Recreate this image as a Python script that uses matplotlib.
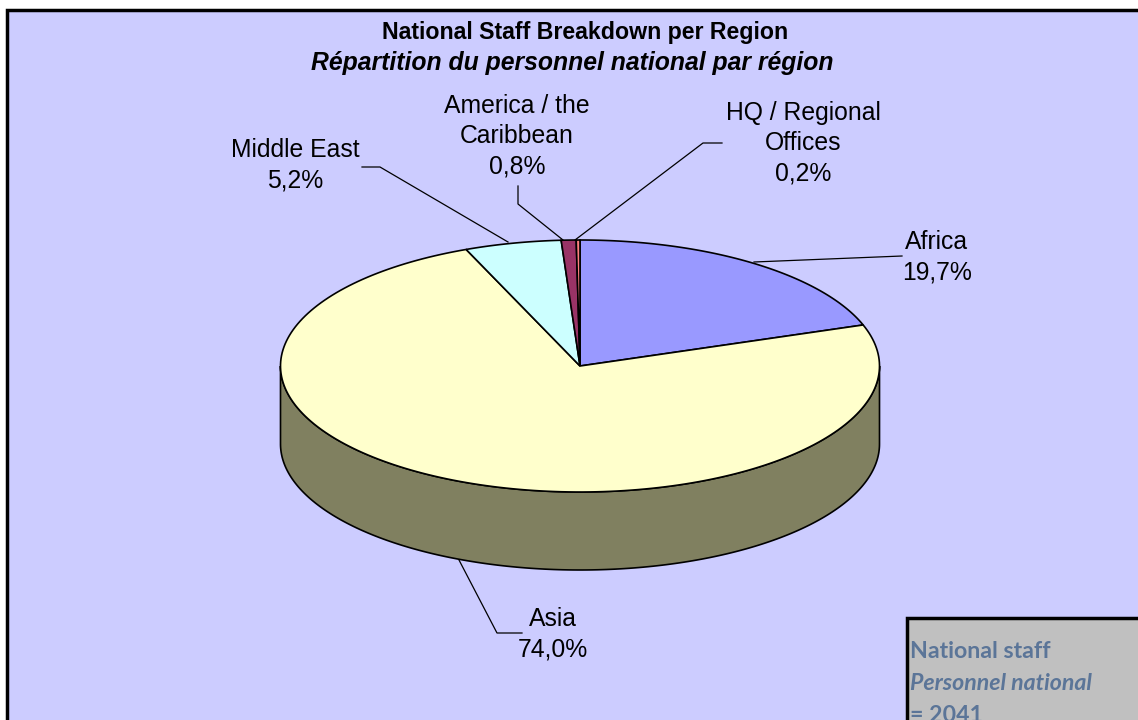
import numpy as np
import matplotlib
matplotlib.use('Agg')
import matplotlib.pyplot as plt
from matplotlib.patches import Polygon, Rectangle

regions = ['Africa', 'Asia', 'Middle East', 'America / the\nCaribbean', 'HQ / Regional\nOffices']
shares = [19.7, 74.0, 5.2, 0.8, 0.2]
share_labels = ['19,7%', '74,0%', '5,2%', '0,8%', '0,2%']
slice_colors = ['#9999ff', '#ffffcc', '#ccffff', '#993366', '#ff8080']
title_en = 'National Staff Breakdown per Region'
title_fr = 'Répartition du personnel national par région'
box_lines = ['National staff', 'Personnel national', '= 2041']

# pie geometry, in pixels of the picture
cx, cy = 580, 366
rx, ry = 299.5, 126
depth = 78
side_color = '#808060'


def rim(t):
    return cx + rx * np.sin(t), cy - ry * np.cos(t)


plt.rcParams['font.family'] = ['Liberation Sans', 'DejaVu Sans']
fig = plt.figure(figsize=(11.38, 7.2), dpi=100, facecolor='white')
ax = fig.add_axes([0, 0, 1, 1])
ax.set_xlim(0, 1138)
ax.set_ylim(720, 0)
ax.axis('off')

ax.add_patch(Rectangle((7, 10), 1140, 720, fc='#ccccff', ec='black', lw=2.5, zorder=0))

# cumulative shares give the slice edges, clockwise from the top
total = sum(shares)
edges = np.cumsum([0] + shares) / total * 2 * np.pi

# side wall: only the front half of the rim shows
for i in range(len(shares)):
    lo = max(edges[i], np.pi / 2)
    hi = min(edges[i + 1], 3 * np.pi / 2)
    if hi <= lo:
        continue
    t = np.linspace(lo, hi, 200)
    x, y = rim(t)
    pts = np.r_[np.c_[x, y], np.c_[x[::-1], y[::-1] + depth]]
    ax.add_patch(Polygon(pts, closed=True, fc=side_color, ec='black', lw=1.2, zorder=1))

for i in range(len(shares)):
    t = np.linspace(edges[i], edges[i + 1], 200)
    x, y = rim(t)
    pts = np.r_[[[cx, cy]], np.c_[x, y]]
    ax.add_patch(Polygon(pts, closed=True, fc=slice_colors[i], ec='black', lw=1.2, zorder=2))

# labels and leader lines
label_pos = [(937, 257), (553, 634), (295, 165), (517, 136), (803, 143)]
leaders = [
    [(754, 262), (902, 256)],
    [(459, 560), (497, 633), (522, 633)],
    [(508, 242), (380, 167), (362, 167)],
    [(563, 240), (518, 204), (518, 186)],
    [(575, 240), (703, 143), (722, 143)],
]
for i in range(len(regions)):
    text = regions[i] + '\n' + share_labels[i]
    ax.text(label_pos[i][0], label_pos[i][1], text, ha='center', va='center',
            fontsize=17.8, color='black', linespacing=1.33, zorder=4)
    lx, ly = zip(*leaders[i])
    ax.plot(lx, ly, color='black', lw=0.9, zorder=3)

ax.text(585, 32, title_en, ha='center', va='center', fontsize=16.7, fontweight='bold')
ax.text(572, 63, title_fr, ha='center', va='center', fontsize=17.8,
        fontweight='bold', fontstyle='italic')

# staff count box, cut off by the edge of the picture
ax.add_patch(Rectangle((907, 618), 260, 130, fc='#c0c0c0', ec='black', lw=2.5, zorder=5))
box_styles = ['normal', 'italic', 'normal']
box_y = [651, 683, 715]
for line, style, y in zip(box_lines, box_styles, box_y):
    ax.text(910, y, line, ha='left', va='center', fontsize=16.7, fontweight='bold',
            fontstyle=style, color='#5b7598', family=['Lato', 'DejaVu Sans'],
            zorder=6, clip_on=True)

fig.savefig('out.png', dpi=100)
